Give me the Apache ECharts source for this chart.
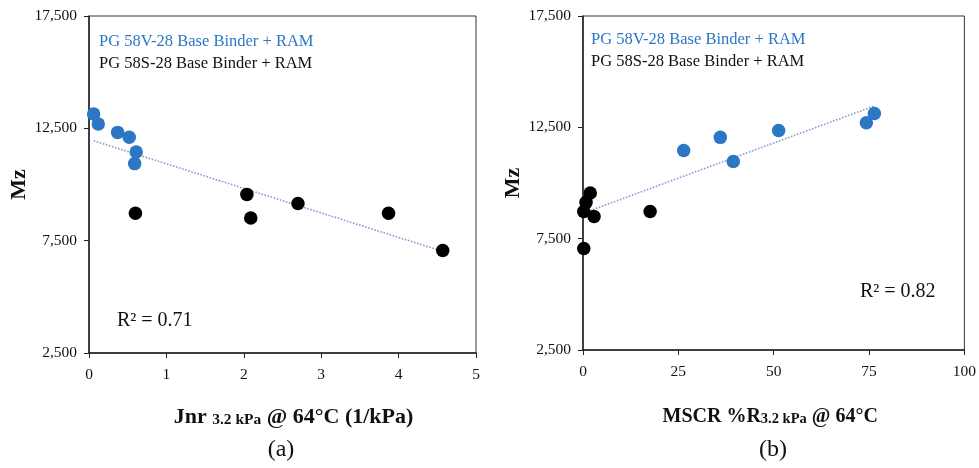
<!DOCTYPE html>
<html>
<head>
<meta charset="utf-8">
<script src="https://cdn.jsdelivr.net/npm/echarts@6/dist/echarts.min.js"></script>
<style>
  html, body { margin: 0; padding: 0; background: #fff; }
  #chart { width: 979px; height: 468px; }
</style>
</head>
<body>
<div id="chart"></div>
<script>
// Series names
const nameV = 'PG 58V-28 Base Binder + RAM';
const nameS = 'PG 58S-28 Base Binder + RAM';

// (a) Jnr 3.2 kPa at 64°C vs Mz
const jnrV = [0.06, 0.12, 0.37, 0.52, 0.61, 0.59];
const mzV_a = [13140, 12690, 12320, 12100, 11450, 10930];
const jnrS = [0.60, 2.04, 2.09, 2.70, 3.87, 4.57];
const mzS_a = [8720, 9560, 8510, 9150, 8720, 7060];

// (b) MSCR %R 3.2 kPa at 64°C vs Mz
const mscrV = [26.4, 36.0, 39.4, 51.3, 74.3, 76.4];
const mzV_b = [11460, 12050, 10970, 12360, 12710, 13120];
const mscrS = [1.9, 0.8, 0.2, 2.9, 0.2, 17.6];
const mzS_b = [9550, 9130, 8720, 8500, 7060, 8720];

// Axis ticks and annotation texts
const mzTicks = [2500, 7500, 12500, 17500];
const r2Labels = ['R² = 0.71', 'R² = 0.82'];
const panelLabels = ['(a)', '(b)'];

const blue = '#2b77c4';
const serif = 'Liberation Serif';

function pairs(xs, ys) { return xs.map((x, i) => [x, ys[i]]); }

// Least-squares linear trendline over both series of a panel
function trend(xs, ys) {
  const n = xs.length;
  const mx = xs.reduce((a, b) => a + b, 0) / n;
  const my = ys.reduce((a, b) => a + b, 0) / n;
  let sxy = 0, sxx = 0;
  for (let i = 0; i < n; i++) { sxy += (xs[i] - mx) * (ys[i] - my); sxx += (xs[i] - mx) ** 2; }
  const k = sxy / sxx, b = my - k * mx;
  const x0 = Math.min(...xs), x1 = Math.max(...xs);
  return [[x0, k * x0 + b], [x1, k * x1 + b]];
}

const fmt = v => v.toLocaleString('en-US');

function yAxisFor(gridIndex) {
  return {
    type: 'value', gridIndex, min: 2500, max: 17500,
    name: 'Mz', nameLocation: 'middle', nameRotate: 90, nameGap: 56,
    nameTextStyle: { fontFamily: serif, fontWeight: 'bold', fontSize: 22, color: '#111' },
    axisLine: { show: true, lineStyle: { color: '#222', width: 1.5 } },
    axisTick: { show: true, length: 5, customValues: mzTicks, lineStyle: { color: '#222' } },
    axisLabel: { customValues: mzTicks, formatter: fmt, margin: 12, fontFamily: serif, fontSize: 15.5, color: '#111' },
    splitLine: { show: false }
  };
}

function xAxisFor(gridIndex, max, interval, name, gap, big, small, padding) {
  return {
    type: 'value', gridIndex, min: 0, max, interval,
    name, nameLocation: 'middle', nameGap: gap,
    nameTextStyle: {
      fontFamily: serif, color: '#111', padding,
      rich: {
        b: { fontFamily: serif, fontWeight: 'bold', fontSize: big, lineHeight: big + 3, verticalAlign: 'bottom', color: '#111' },
        s: { fontFamily: serif, fontWeight: 'bold', fontSize: small, lineHeight: small + 3, verticalAlign: 'bottom', color: '#111' }
      }
    },
    axisLine: { show: true, onZero: false, lineStyle: { color: '#222', width: 1.5 } },
    axisTick: { show: true, length: 5, lineStyle: { color: '#222' } },
    axisLabel: { margin: 14, fontFamily: serif, fontSize: 15.5, color: '#111' },
    splitLine: { show: false }
  };
}

function scatter(name, xi, data, color) {
  return {
    type: 'scatter', name, xAxisIndex: xi, yAxisIndex: xi,
    data, symbolSize: 13.5, itemStyle: { color, opacity: 1 }, z: 3
  };
}

function trendSeries(xi, data) {
  return {
    type: 'line', name: 'trend' + xi, xAxisIndex: xi, yAxisIndex: xi,
    data, symbol: 'none', silent: true, z: 2,
    lineStyle: { type: 'dotted', width: 1.6, color: '#8a9bd2' }
  };
}

function legendFor(left, top) {
  return {
    orient: 'vertical', left, top, icon: 'rect', itemWidth: 0, itemHeight: 0, itemGap: 5,
    selectedMode: false,
    textStyle: { fontFamily: serif, fontSize: 16.5, lineHeight: 17 },
    data: [
      { name: nameV, textStyle: { color: blue } },
      { name: nameS, textStyle: { color: '#111' } }
    ]
  };
}

const chart = echarts.init(document.getElementById('chart'), null, { renderer: 'canvas' });

const option = {
  backgroundColor: '#fff',
  animation: false,
  grid: [
    { left: 89, top: 16, width: 387, height: 337, show: true, borderColor: '#333', borderWidth: 1, backgroundColor: 'transparent' },
    { left: 583, top: 16, width: 382, height: 334, show: true, borderColor: '#333', borderWidth: 1, backgroundColor: 'transparent' }
  ],
  legend: [legendFor(89, 28), legendFor(581, 26)],
  xAxis: [
    xAxisFor(0, 5, 1, '{b|Jnr }{s|3.2 kPa}{b| @ 64°C (1/kPa)}', 50, 22, 15.5, [0, 0, 0, 22]),
    xAxisFor(1, 100, 25, '{b|MSCR %R}{s|3.2 kPa}{b| @ 64°C}', 54, 20, 14.5, [0, 7, 0, 0])
  ],
  yAxis: [yAxisFor(0), yAxisFor(1)],
  series: [
    trendSeries(0, trend(jnrV.concat(jnrS), mzV_a.concat(mzS_a))),
    scatter(nameV, 0, pairs(jnrV, mzV_a), blue),
    scatter(nameS, 0, pairs(jnrS, mzS_a), '#000'),
    trendSeries(1, trend(mscrV.concat(mscrS), mzV_b.concat(mzS_b))),
    scatter(nameV, 1, pairs(mscrV, mzV_b), blue),
    scatter(nameS, 1, pairs(mscrS, mzS_b), '#000')
  ],
  graphic: [
    { type: 'text', left: 117, top: 311, style: { text: r2Labels[0], font: '20px "Liberation Serif"', fill: '#111' } },
    { type: 'text', left: 860, top: 282, style: { text: r2Labels[1], font: '20px "Liberation Serif"', fill: '#111' } },
    { type: 'text', x: 281, y: 450, style: { text: panelLabels[0], font: '24px "Liberation Serif"', fill: '#111', align: 'center', verticalAlign: 'middle' } },
    { type: 'text', x: 773, y: 450, style: { text: panelLabels[1], font: '24px "Liberation Serif"', fill: '#111', align: 'center', verticalAlign: 'middle' } }
  ]
};

chart.setOption(option);
</script>
</body>
</html>
